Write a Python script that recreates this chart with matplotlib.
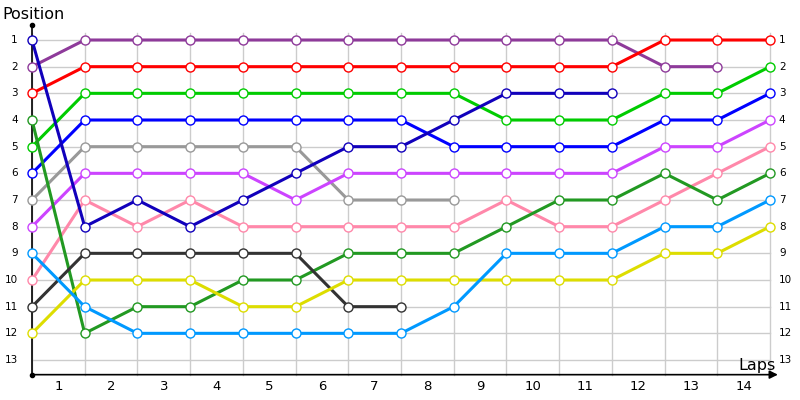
import matplotlib.pyplot as plt

laps = list(range(1, 15))

# position after each lap, index 0 = start grid
purple = [2, 1, 1, 1, 1, 1, 1, 1, 1, 1, 1, 1, 2, 2]
red = [3, 2, 2, 2, 2, 2, 2, 2, 2, 2, 2, 2, 1, 1, 1]
lime = [5, 3, 3, 3, 3, 3, 3, 3, 3, 4, 4, 4, 3, 3, 2]
blue = [6, 4, 4, 4, 4, 4, 4, 4, 5, 5, 5, 5, 4, 4, 3]
navy = [1, 8, 7, 8, 7, 6, 5, 5, 4, 3, 3, 3]
grey = [7, 5, 5, 5, 5, 5, 7, 7, 7]
magenta = [8, 6, 6, 6, 6, 7, 6, 6, 6, 6, 6, 6, 5, 5, 4]
pink = [10, 7, 8, 7, 8, 8, 8, 8, 8, 7, 8, 8, 7, 6, 5]
forest = [4, 12, 11, 11, 10, 10, 9, 9, 9, 8, 7, 7, 6, 7, 6]
dark = [11, 9, 9, 9, 9, 9, 11, 11]
yellow = [12, 10, 10, 10, 11, 11, 10, 10, 10, 10, 10, 10, 9, 9, 8]
sky = [9, 11, 12, 12, 12, 12, 12, 12, 11, 9, 9, 9, 8, 8, 7]

series = [
    (purple, '#8e3a9a'),
    (red, '#ff0000'),
    (lime, '#00cc00'),
    (blue, '#0000ff'),
    (grey, '#999999'),
    (magenta, '#cc44ff'),
    (pink, '#ff88aa'),
    (forest, '#229922'),
    (dark, '#333333'),
    (yellow, '#dddd00'),
    (sky, '#0099ff'),
    (navy, '#1100bb'),
]

fig = plt.figure(figsize=(8, 4), dpi=100)
ax = fig.add_axes([0, 0, 1, 1])
ax.set_xlim(-0.607, 14.57)
ax.set_ylim(14.5, -0.5)
ax.axis('off')

# grid
for p in range(1, 14):
    ax.plot([0, 14], [p, p], color='#cccccc', lw=1, zorder=1)
for i in range(15):
    ax.plot([i, i], [0.75, 13.55], color='#cccccc', lw=1, zorder=1)

# axes lines
ax.plot([0, 0], [0.44, 13.55], color='black', lw=1.2, zorder=2, clip_on=False)
ax.plot([0], [0.44], 'o', color='black', ms=3, zorder=2)
ax.plot([0], [13.55], 'o', color='black', ms=3, zorder=2)
ax.annotate('', xy=(14.15, 13.55), xytext=(0, 13.55),
            arrowprops=dict(arrowstyle='-|>', color='black', lw=1.2,
                            mutation_scale=12, shrinkA=0, shrinkB=0),
            zorder=2)

for vals, c in series:
    xs = list(range(len(vals)))
    ax.plot(xs, vals, '-', color=c, lw=2.2, zorder=3, solid_capstyle='round')
    ax.plot(xs, vals, 'o', color=c, mfc='white', mec=c, ms=6.5, mew=1.0,
            zorder=4, clip_on=False)

# tick labels
for p in range(1, 14):
    ax.text(-0.27, p, str(p), ha='right', va='center', fontsize=7.5)
    ax.text(14.17, p, str(p), ha='left', va='center', fontsize=7.5)
for i, lap in enumerate(laps):
    ax.text(i + 0.5, 14.0, str(lap), ha='center', va='center', fontsize=9.5)

ax.text(-0.56, 0.06, 'Position', ha='left', va='center', fontsize=11.5)
ax.text(14.1, 13.22, 'Laps', ha='right', va='center', fontsize=11.5)

fig.savefig('out.png', dpi=100)
